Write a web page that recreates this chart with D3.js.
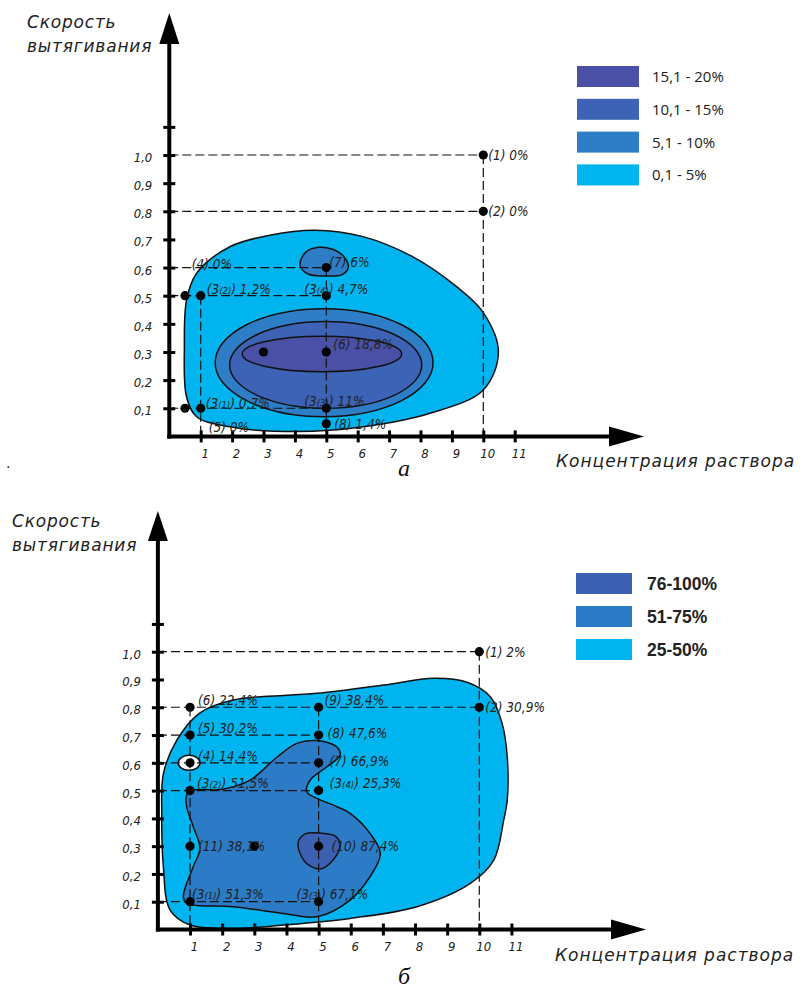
<!DOCTYPE html>
<html><head><meta charset="utf-8">
<script src="https://cdn.jsdelivr.net/npm/d3@7"></script>
<style>body{margin:0;background:#fff}svg{display:block}</style>
</head><body><div id="c"></div>
<script>
// ---------- DATA ----------
const xTicks = [1,2,3,4,5,6,7,8,9,10,11];
const yTicks = [0.1,0.2,0.3,0.4,0.5,0.6,0.7,0.8,0.9,1.0,1.1];
const yTickLabels = ["0,1","0,2","0,3","0,4","0,5","0,6","0,7","0,8","0,9","1,0",""];
const xAxisTitle = "Концентрация раствора";
const yAxisTitle = ["Скорость","вытягивания"];

// Panel а
const legendA = ["15,1 - 20%","10,1 - 15%","5,1 - 10%","0,1 - 5%"];
const colorsA = ["#4a50a6","#3c63b5","#2e7dc7","#00b5ef"];
const outerA = [[0.55,0.485],[0.87,0.58],[1.93,0.674],[3.2,0.715],[4.64,0.733],[6.17,0.71],[7.76,0.638],[9.15,0.532],[10.0,0.44],[10.48,0.30],[10.0,0.165],[8.3,0.082],[6.18,0.034],[4.06,0.017],[1.93,0.034],[0.87,0.07],[0.55,0.14],[0.48,0.32]];
const blobA7 = [[4.16,0.61],[4.35,0.655],[4.75,0.672],[5.2,0.665],[5.55,0.64],[5.7,0.6],[5.5,0.575],[4.95,0.57],[4.4,0.578]];
const ellipsesA = [
  {cx:4.93, cy:0.262, rx:3.47, ry:0.192, level:2},
  {cx:4.98, cy:0.254, rx:3.06, ry:0.154, level:1},
  {cx:4.86, cy:0.293, rx:2.54, ry:0.063, level:0}
];
const pointsA = [
  {n:"1", sub:"", x:10, y:1.0, v:"0%"},
  {n:"2", sub:"", x:10, y:0.8, v:"0%"},
  {n:"4", sub:"", x:1, y:0.6, v:"0%", nodot:true},
  {n:"7", sub:"", x:5, y:0.6, v:"6%"},
  {n:"3", sub:"(2)", x:1, y:0.5, v:"1,2%"},
  {n:"3", sub:"(4)", x:5, y:0.5, v:"4,7%"},
  {n:"6", sub:"", x:5, y:0.3, v:"18,8%"},
  {n:"3", sub:"(1)", x:1, y:0.1, v:"0,7%"},
  {n:"3", sub:"(3)", x:5, y:0.1, v:"11%"},
  {n:"8", sub:"", x:5, y:0.045, v:"1,4%"},
  {n:"5", sub:"", x:1, y:0.0, v:"0%", nodot:true}
];
const extraDotsA = [[0.5,0.5],[0.5,0.1],[3,0.3]];
const guidesA = [[[0,1],[10,1]],[[10,1],[10,0]],[[0,0.8],[10,0.8]],[[0,0.6],[5,0.6]],[[0,0.5],[5,0.5]],[[1,0.5],[1,0]],[[5,0.6],[5,0]],[[0,0.1],[5,0.1]]];

// Panel б
const legendB = ["76-100%","51-75%","25-50%"];
const colorsB = ["#3c60b2","#2c7bc6","#00b5ef"];
const outerB = [[0.12,0.418],[0.17,0.56],[0.58,0.68],[1.31,0.78],[2.35,0.826],[4.95,0.85],[7.02,0.88],[8.58,0.904],[9.62,0.89],[10.35,0.837],[10.71,0.742],[10.87,0.62],[10.87,0.466],[10.76,0.394],[10.45,0.25],[9.72,0.166],[8.06,0.082],[5.98,0.04],[3.9,0.016],[2.35,0.004],[1.0,0.016],[0.38,0.07],[0.17,0.226]];
const midB = [[0.88,0.48],[1.0,0.5],[2.0,0.505],[2.87,0.538],[3.7,0.62],[4.32,0.67],[4.95,0.68],[5.57,0.657],[5.67,0.628],[5.26,0.586],[4.74,0.538],[4.63,0.496],[4.95,0.472],[5.57,0.442],[5.98,0.418],[6.6,0.346],[6.92,0.274],[6.6,0.19],[5.98,0.106],[4.95,0.046],[3.9,0.058],[2.35,0.082],[0.9,0.094],[0.79,0.118],[1.1,0.226],[1.31,0.292],[1.1,0.37],[0.9,0.44]];
const darkB = [[4.36,0.311],[4.58,0.344],[5.05,0.347],[5.52,0.336],[5.67,0.304],[5.45,0.25],[5.05,0.218],[4.58,0.243]];
const holeB = {cx:0.97, cy:0.6, rx:0.34, ry:0.027};
const pointsB = [
  {n:"1", sub:"", x:10, y:1.0, v:"2%"},
  {n:"2", sub:"", x:10, y:0.8, v:"30,9%"},
  {n:"6", sub:"", x:1, y:0.8, v:"22,4%"},
  {n:"9", sub:"", x:5, y:0.8, v:"38,4%"},
  {n:"5", sub:"", x:1, y:0.7, v:"30,2%"},
  {n:"8", sub:"", x:5, y:0.7, v:"47,6%"},
  {n:"4", sub:"", x:1, y:0.6, v:"14,4%"},
  {n:"7", sub:"", x:5, y:0.6, v:"66,9%"},
  {n:"3", sub:"(2)", x:1, y:0.5, v:"51,5%"},
  {n:"3", sub:"(4)", x:5, y:0.5, v:"25,3%"},
  {n:"11", sub:"", x:1, y:0.3, v:"38,1%"},
  {n:"10", sub:"", x:5, y:0.3, v:"87,4%"},
  {n:"3", sub:"(1)", x:1, y:0.1, v:"51,3%"},
  {n:"3", sub:"(3)", x:5, y:0.1, v:"67,1%"}
];
const extraDotsB = [[3,0.3]];
const guidesB = [[[0,1],[10,1]],[[10,1],[10,0]],[[0,0.8],[10,0.8]],[[0,0.7],[5,0.7]],[[0,0.6],[5,0.6]],[[0,0.5],[5,0.5]],[[0,0.1],[5,0.1]],[[1,0.8],[1,0]],[[5,0.8],[5,0]]];

// ---------- LAYOUT (label offsets in px) ----------
const offA = [[5,5],[5,5],[-9,1],[3,-1],[6,-2],[-22,-2],[7,-3],[5,0],[-22,-2],[8,5],[8,-4]];
const offB = [[6,5],[6,5],[8,-2],[6,-2],[8,-2],[9,3],[8,-2],[11,3],[7,-3],[11,-3],[8,5],[13,5],[2,-3],[-22,-3]];

const W=806, H=992;
const svg = d3.select("#c").append("svg").attr("width",W).attr("height",H);
const FONT = "'DejaVu Sans Condensed','DejaVu Sans',sans-serif";

function panel(o){
  const x = d3.scaleLinear().domain([0,10]).range(o.xr);
  const y = d3.scaleLinear().domain([0,1]).range(o.yr);
  const g = svg.append("g");
  const x0 = x(0), y0 = y(0);
  const line = d3.line().x(d=>x(d[0])).y(d=>y(d[1])).curve(d3.curveCatmullRomClosed.alpha(0.5));

  o.regions(g, x, y, line);

  g.selectAll("line.guide").data(o.guides).join("line")
    .attr("x1",d=>x(d[0][0])).attr("y1",d=>y(d[0][1]))
    .attr("x2",d=>x(d[1][0])).attr("y2",d=>y(d[1][1]))
    .attr("stroke","#111").attr("stroke-width",1.2).attr("stroke-dasharray","9,4");

  g.append("line").attr("x1",x0).attr("y1",y0+2).attr("x2",x0).attr("y2",o.yArrowBase)
    .attr("stroke","#000").attr("stroke-width",4);
  g.append("path").attr("d",`M${x0-10},${o.yArrowBase} L${x0},${o.yArrowTip} L${x0+10},${o.yArrowBase}Z`).attr("fill","#000");
  g.append("line").attr("x1",x0-2).attr("y1",y0).attr("x2",o.xArrowBase).attr("y2",y0)
    .attr("stroke","#000").attr("stroke-width",4);
  g.append("path").attr("d",`M${o.xArrowBase},${y0-10} L${o.xArrowTip},${y0} L${o.xArrowBase},${y0+10}Z`).attr("fill","#000");

  const xa = g.append("g").attr("transform",`translate(0,${y0})`)
    .call(d3.axisBottom(x).tickValues(xTicks).tickSize(7).tickPadding(5).tickFormat(d=>String(d)));
  xa.select(".domain").remove();
  xa.selectAll(".tick line").attr("y1",-6).attr("y2",6).attr("stroke","#000").attr("stroke-width",3);
  xa.selectAll(".tick text").attr("font-family",FONT).attr("font-style","italic").attr("font-size",13)
    .attr("fill","#222").attr("dx",4);

  const ya = g.append("g").attr("transform",`translate(${x0},0)`)
    .call(d3.axisLeft(y).tickValues(yTicks).tickSize(7).tickPadding(10).tickFormat((d,i)=>yTickLabels[i]));
  ya.select(".domain").remove();
  ya.selectAll(".tick line").attr("x1",-6).attr("x2",6).attr("stroke","#000").attr("stroke-width",3);
  ya.selectAll(".tick text").attr("font-family",FONT).attr("font-style","italic").attr("font-size",13)
    .attr("fill","#222").attr("dy","0.5em");

  const dots = o.points.filter(p=>!p.nodot).map(p=>[p.x,p.y]).concat(o.extra);
  g.selectAll("circle.dot").data(dots).join("circle")
    .attr("cx",d=>x(d[0])).attr("cy",d=>y(d[1])).attr("r",4.6).attr("fill","#000");

  o.points.forEach((p,i)=>{
    const t = g.append("text").attr("x",x(p.x)+o.off[i][0]).attr("y",y(p.y)+o.off[i][1])
      .attr("font-family",FONT).attr("font-style","italic").attr("font-size",13.5).attr("fill","#222");
    t.append("tspan").text("("+p.n);
    if(p.sub){ t.append("tspan").attr("font-size",9.5).text(p.sub); }
    t.append("tspan").text(") "+p.v);
  });

  g.append("text").attr("x",o.xTitle[0]).attr("y",o.xTitle[1]).text(xAxisTitle)
    .attr("font-family","'DejaVu Sans',sans-serif").attr("font-style","italic").attr("font-size",17)
    .attr("letter-spacing",1).attr("fill","#222");
  yAxisTitle.forEach((s,i)=>{
    g.append("text").attr("x",o.yTitle[0]).attr("y",o.yTitle[1]+i*24).text(s)
      .attr("font-family","'DejaVu Sans',sans-serif").attr("font-style","italic").attr("font-size",17)
      .attr("letter-spacing",0.8).attr("fill","#222");
  });

  o.legend.forEach((s,i)=>{
    const ly = o.legY + i*o.legStep;
    g.append("rect").attr("x",o.legX).attr("y",ly).attr("width",o.legW).attr("height",21).attr("fill",o.colors[i]);
    g.append("text").attr("x",o.legX+o.legW+o.legGap).attr("y",ly+10.5).attr("dy","0.36em").text(s)
      .attr("font-family",o.legFont).attr("font-weight",o.legWeight).attr("font-size",o.legSize).attr("fill","#222");
  });

  g.append("text").attr("x",404).attr("y",o.capY).attr("text-anchor","middle").text(o.cap)
    .attr("font-family","'Liberation Serif',serif").attr("font-style","italic").attr("font-size",24).attr("fill","#111");
}

panel({
  xr:[169.3,483.3], yr:[436.4,155],
  yArrowTip:13, yArrowBase:44, xArrowBase:609, xArrowTip:644,
  guides:guidesA, points:pointsA, extra:extraDotsA, off:offA,
  xTitle:[556,467], yTitle:[27,28],
  legend:legendA, colors:colorsA, legX:577, legY:66, legStep:32.8, legW:62, legGap:13,
  legFont:"'Open Sans',sans-serif", legWeight:400, legSize:15,
  cap:"а", capY:476,
  regions:(g,x,y,line)=>{
    g.append("path").attr("d",line(outerA)).attr("fill",colorsA[3]).attr("stroke","#111").attr("stroke-width",1.5);
    g.append("path").attr("d",line(blobA7)).attr("fill",colorsA[2]).attr("stroke","#111").attr("stroke-width",1.5);
    g.selectAll("ellipse.e").data(ellipsesA).join("ellipse")
      .attr("cx",d=>x(d.cx)).attr("cy",d=>y(d.cy))
      .attr("rx",d=>x(d.cx+d.rx)-x(d.cx)).attr("ry",d=>y(d.cy)-y(d.cy+d.ry))
      .attr("fill",d=>colorsA[d.level]).attr("stroke","#111").attr("stroke-width",1.5);
  }
});

panel({
  xr:[157.9,479.3], yr:[929.5,651.7],
  yArrowTip:511, yArrowBase:541, xArrowBase:611, xArrowTip:646,
  guides:guidesB, points:pointsB, extra:extraDotsB, off:offB,
  xTitle:[555,961], yTitle:[12,527],
  legend:legendB, colors:colorsB, legX:576, legY:573, legStep:33, legW:56, legGap:15,
  legFont:"'Liberation Sans',Arial,sans-serif", legWeight:700, legSize:17.5,
  cap:"б", capY:984,
  regions:(g,x,y,line)=>{
    g.append("path").attr("d",line(outerB)).attr("fill",colorsB[2]).attr("stroke","#111").attr("stroke-width",1.5);
    g.append("path").attr("d",line(midB)).attr("fill",colorsB[1]).attr("stroke","#111").attr("stroke-width",1.5);
    g.append("path").attr("d",line(darkB)).attr("fill",colorsB[0]).attr("stroke","#111").attr("stroke-width",1.5);
    g.append("ellipse").attr("cx",x(holeB.cx)).attr("cy",y(holeB.cy))
      .attr("rx",x(holeB.cx+holeB.rx)-x(holeB.cx)).attr("ry",y(holeB.cy)-y(holeB.cy+holeB.ry))
      .attr("fill","#fff").attr("stroke","#111").attr("stroke-width",1.5);
  }
});

svg.append("text").attr("x",6).attr("y",468).text(".").attr("font-family","'DejaVu Sans',sans-serif").attr("font-size",14).attr("fill","#222");
</script></body></html>
